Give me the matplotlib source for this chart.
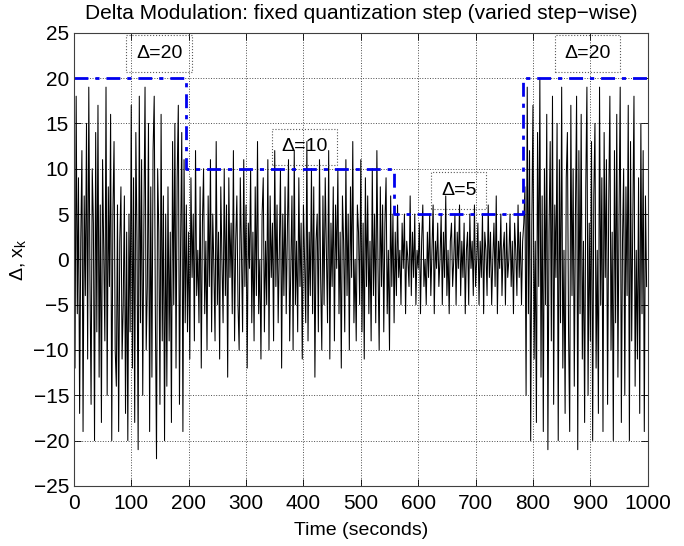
import numpy as np
import matplotlib
matplotlib.use('Agg')
import matplotlib.pyplot as plt

plt.rcParams['font.family'] = ['Liberation Sans', 'DejaVu Sans']
plt.rcParams['mathtext.fontset'] = 'custom'
plt.rcParams['mathtext.rm'] = 'Liberation Sans'
plt.rcParams['mathtext.it'] = 'Liberation Sans'

# signal samples, one every 2 s
seg1 = [3, -12, 18, -6, 9, -17, 2, 12, -19, 7, -4, 15, -11, 19, -2, -16, 10, 4, -20, 14,
        -8, 17, -13, 6, -18, 11, 1, -9, 19, -15, 8, -3, 16, -20, 5, 13, -10,
        -14, 6, -19, 2, 8, -11, -5, 7, -17, 3, -20, 5, -8,
        17, -12, 9, -18, 14, 2, -21, 18, -7, 11, -15, 4, 19, -10, -3, 15, -19, 8, -13, 12,
        18, -6, -22, 10, 3, -16, 16, -9, 7, -20,
        5, -14, 8, -9, 3, -18, 13, -5, 15, -12, 9, 17, -16, 2, 14, -19, 11, -7]
seg2 = [6, -8, 3, -11, 9, -2, 5, -9, 12, -4, 1, -7, 8, -12, 4, 10, -6, 2, -10, 7,
        -3, 11, -8, 5, -1, -9, 13, -5, 3, -11, 8, 0, -7, 10, -4, 6, -13, 9, -2, 4,
        -6, 12, -9, 2, 7, -5, -10, 9, 1, -8, 11, -3, 6, -12, 4, -1, 10, -7, 3, -9,
        8, -4, 13, -6, 0, -11, 5, 9, -8, 2, -5, 11, -10, 7, -2, 4, -9, 12, -3, 6,
        -7, 1, 10, -12, 5, -4, 8, -6, 3, 11, -9, -1, 7, -10, 12, -5, 2, -8, 9, -3,
        4, -11, 6, 0, -7, 13, -9, 3, -4, 10, -6, 8, -13, 2, 5, -8, 11, -2, -10, 7,
        -5, 9, 1, -7, 12, -11, 4, -3, 8, -9, 6, -1, 10, -6, 3, -12, 7, 2, -8, 11,
        -4, 5, -10, 8, -2, 13, -7, 0, -9, 6, 3, -5, 11, -8, 4, -11, 9, -3, 7, -6,
        2, -9, 10, -4, 5, -7, 12, -1, -10, 8, -3, 6,
        -8, 4, 9, -6, 1, -10, 7, -3, 5, -7]
seg3 = [3, -4, 6, -2, 1, -5, 4, -1, 5, -6, 2, 0, -3, 7, -4, 3, -2, 5, -5, 1,
        -1, 4, -6, 2, 6, -3, 0, -5, 3, -2, 5, -4, 1, 6, -6, 2, -1, 4, -3, 0,
        5, -5, 3, -2, 7, -4, 1, -6, 2, 4, -3, 0, 5, -5, 3, -1, 6, -4, 2, -2,
        4, -6, 1, 3, -5, 5, -1, 2, -4, 6, -3, 0, 4, -5, 2, -2, 5, -6, 3, 1,
        -4, 6, -2, 3, -5, 0, 4, -3, 7, -6, 2, -1, 5, -4, 1, 3, -5, 4, -2, 0,
        5, -3, 2, -6, 4, 1, -4, 6, -2, 3, -5, 2, 4]
seg4 = [8, -15, 19, -6, 12, -20, 4, 17, -11, 2, -18, 14, -3, 20, -13, 7, -19, 10, -5, 16,
        -21, 3, 13, -9, 18, -16, 6, -2, 15, -20, 11, -7, 19, -12, 1, -17, 9, 14, -8, -19,
        17, -4, 10, -14, 5, 18, -21, 12, -6, 16, -11, 2, -18, 8, 19, -15, 4, -9, 13, -20,
        7, 15, -12, 1, -17, 19, -5, 9, -19, 14, -2, 11, -16, 6, 18, -10, 3, -20, 12, -7,
        16, -13, 5, 19, -18, 2, 10, -15, 8, -4, 17, -20, 13, -9, 4, 18, -14, 1, -11, 9,
        -17, 15, -6, 12, -19, 7, -3]

# quantization step, piecewise constant
step_edges = [0, 195, 558, 782, 1000]
step_vals = [20, 10, 5, 20]

labels = ['Δ=20', 'Δ=10', 'Δ=5', 'Δ=20']
label_x = [149, 402, 671, 895]
label_y = [22.7, 12.4, 7.6, 22.7]

x_k = np.array(seg1 + seg2 + seg3 + seg4, dtype=float)
t = np.arange(len(x_k)) * 2

fig = plt.figure(figsize=(6.84, 5.46), dpi=100)
ax = fig.add_axes([0.108, 0.110, 0.839, 0.830])

ax.plot(t, x_k, color='black', lw=0.75)
ax.step(step_edges, step_vals + [step_vals[-1]], where='post', color='#0000ee',
        lw=2, linestyle=(0, (5, 2.5, 1.5, 2.5)))

for s, xx, yy in zip(labels, label_x, label_y):
    ax.text(xx, yy, s, fontsize=14, ha='center', va='center',
            bbox=dict(boxstyle='square,pad=0.5', fc='none', ec='0.35', ls=':', lw=0.8))

ax.set_xlim(0, 1000)
ax.set_ylim(-25, 25)
ax.set_xticks(np.arange(0, 1001, 100))
ax.set_yticks(np.arange(-25, 26, 5))
ax.set_yticklabels([str(v).replace('-', '−') for v in range(-25, 26, 5)])
ax.grid(True, linestyle=':', color='0.3', lw=0.7)
ax.tick_params(direction='in', top=True, right=True, labelsize=15, length=5, width=0.6)
ax.tick_params(axis='x', pad=6)
for sp in ax.spines.values():
    sp.set_linewidth(0.8)
    sp.set_color('0.25')

ax.set_title('Delta Modulation: fixed quantization step (varied step−wise)', fontsize=15, pad=10)
ax.set_xlabel('Time (seconds)', fontsize=14, labelpad=6)
ax.set_ylabel('$\\Delta$, x$_k$', fontsize=14, labelpad=4)

fig.savefig('out.png', dpi=100)
